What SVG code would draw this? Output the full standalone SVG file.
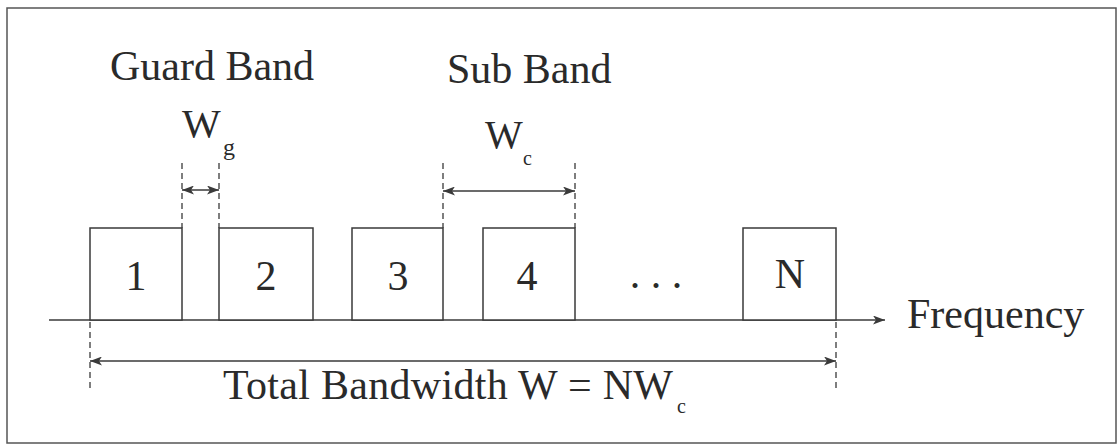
<svg xmlns="http://www.w3.org/2000/svg" width="1118" height="445" viewBox="0 0 1118 445">
<style>
.ln{stroke:#3a3a3a;stroke-width:1.5;fill:none}
.box{stroke:#3a3a3a;stroke-width:1.5;fill:#fff}
.dash{stroke:#3a3a3a;stroke-width:1.3;stroke-dasharray:6 4;fill:none}
.t{font-family:"Liberation Serif","Times New Roman",serif;font-size:42px;fill:#2a2a2a}
.sub{font-family:"Liberation Serif","Times New Roman",serif;font-size:20px;fill:#2a2a2a}
.mid{text-anchor:middle}
</style>
<defs>
<marker id="ah" markerUnits="userSpaceOnUse" markerWidth="13" markerHeight="9" refX="12" refY="4.5" orient="auto-start-reverse" viewBox="0 0 13 9">
<path d="M0,0 L12,4.5 L0,9 L3,4.5 z" fill="#3a3a3a"/>
</marker>
</defs>
<rect x="7" y="8" width="1109" height="435" fill="#fff" stroke="#555" stroke-width="1.5"/>
<g id="axis">
<line class="ln" x1="49" y1="320" x2="885" y2="320" marker-end="url(#ah)"/>
<text class="t" x="907" y="328">Frequency</text>
</g>
<g id="band1"><rect class="box" x="90" y="228" width="92" height="92"/><text class="t mid" x="136" y="290">1</text></g>
<g id="band2"><rect class="box" x="219" y="228" width="94" height="92"/><text class="t mid" x="266" y="290">2</text></g>
<g id="band3"><rect class="box" x="352" y="228" width="91" height="92"/><text class="t mid" x="398" y="290">3</text></g>
<g id="band4"><rect class="box" x="483" y="228" width="92" height="92"/><text class="t mid" x="527" y="290">4</text></g>
<g id="ellipsis"><text class="t mid" x="656" y="288">. . .</text></g>
<g id="bandN"><rect class="box" x="743" y="228" width="93" height="92"/><text class="t mid" x="790" y="288">N</text></g>
<g id="guard-label">
<text class="t" x="110" y="80">Guard Band</text>
<text class="t" x="182" y="137" style="font-size:41px">W</text>
<text class="sub" x="223" y="155" style="font-size:24px">g</text>
</g>
<g id="sub-label">
<text class="t" x="447" y="83">Sub Band</text>
<text class="t" x="485" y="148" style="font-size:40px">W</text>
<text class="sub" x="523" y="165">c</text>
</g>
<g id="total-label">
<text class="t" x="223" y="399" textLength="450" lengthAdjust="spacing">Total Bandwidth W = NW</text>
<text class="sub" x="677" y="413">c</text>
</g>
<g id="connectors">
<line class="dash" x1="182" y1="163" x2="182" y2="228"/>
<line class="dash" x1="219" y1="163" x2="219" y2="228"/>
<line class="ln" x1="182" y1="190" x2="219" y2="190" marker-start="url(#ah)" marker-end="url(#ah)"/>
<line class="dash" x1="443" y1="163" x2="443" y2="228"/>
<line class="dash" x1="575" y1="163" x2="575" y2="228"/>
<line class="ln" x1="443" y1="191" x2="575" y2="191" marker-start="url(#ah)" marker-end="url(#ah)"/>
<line class="dash" x1="90" y1="322" x2="90" y2="388"/>
<line class="dash" x1="836" y1="322" x2="836" y2="388"/>
<line class="ln" x1="90" y1="361" x2="836" y2="361" marker-start="url(#ah)" marker-end="url(#ah)"/>
</g>
</svg>
